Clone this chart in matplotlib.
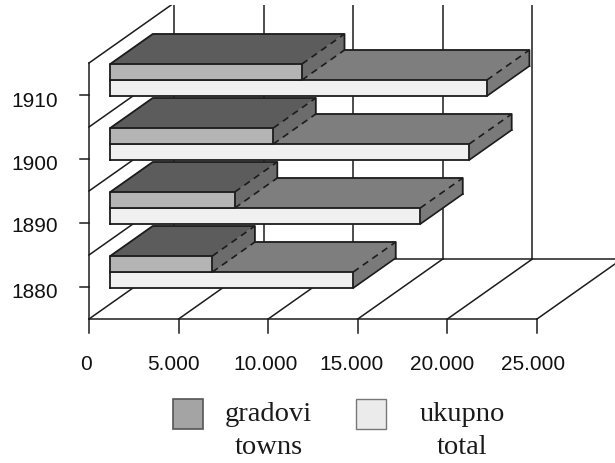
import matplotlib
matplotlib.use("Agg")
import matplotlib.pyplot as plt
from matplotlib.patches import Polygon

years = ["1880", "1890", "1900", "1910"]
towns = [5700, 6950, 9100, 10700]
total = [13560, 17300, 20030, 21020]
x_ticks = [0, 5000, 10000, 15000, 20000, 25000]
x_labels = ["0", "5.000", "10.000", "15.000", "20.000", "25.000"]

W, H = 615, 464
PX_X = 89.6 / 5000          # pixels per unit of value
PX_Y = 64.0                 # pixels per category band
X0_PX, Y0_PX, TOP_PX = 89, 320, 6
DX = 85 / PX_X              # full depth of the floor, value units
DY = 60 / PX_Y              # full depth of the floor, category units
F_FRONT, F_BACK = 0.25, 0.75
BAR_LOW, BAR_MID, BAR_HIGH = 0.25, 0.5, 0.75
DASH = (0, (4, 3))

C_EDGE = "#1c1c1c"
C_TOWN_FRONT, C_TOWN_TOP, C_TOWN_SIDE = "#b4b4b4", "#5c5c5c", "#6c6c6c"
C_TOTAL_FRONT, C_TOTAL_TOP, C_TOTAL_SIDE = "#f0f0f0", "#7e7e7e", "#7a7a7a"

fig = plt.figure(figsize=(W / 100, H / 100), dpi=100)
ax = fig.add_axes([0, 0, 1, (H - TOP_PX) / H])
ax.set_xlim(-X0_PX / PX_X, (W - X0_PX) / PX_X)
ax.set_ylim((Y0_PX - H) / PX_Y, (Y0_PX - TOP_PX) / PX_Y)
ax.axis("off")


def proj(v, c, f):
    """Oblique projection: value v, category height c, depth fraction f."""
    return v + DX * f, c + DY * f


def line(points, lw=1.1, ls="-", z=1):
    ax.plot([p[0] for p in points], [p[1] for p in points], color=C_EDGE,
            lw=lw, linestyle=ls, solid_capstyle="projecting", zorder=z)


def face(points, color, z):
    ax.add_patch(Polygon(points, closed=True, facecolor=color, edgecolor=color,
                         lw=0.3, zorder=z))


def box(v, c0, c1, front, top, side, z, soft_base):
    a, b = F_FRONT, F_BACK
    face([proj(0, c0, a), proj(v, c0, a), proj(v, c1, a), proj(0, c1, a)], front, z)
    face([proj(0, c1, a), proj(v, c1, a), proj(v, c1, b), proj(0, c1, b)], top, z)
    face([proj(v, c0, a), proj(v, c1, a), proj(v, c1, b), proj(v, c0, b)], side, z)
    e = z + 0.1
    line([proj(0, c0, a), proj(v, c0, a), proj(v, c1, a), proj(0, c1, a), proj(0, c0, a)], lw=1.3, z=e)
    line([proj(0, c1, a), proj(0, c1, b), proj(v, c1, b), proj(v, c0, b)], lw=1.3, z=e)
    line([proj(v, c1, a), proj(v, c1, b)], lw=1.2, ls=DASH, z=e)
    line([proj(v, c0, a), proj(v, c0, b)], lw=1.2, ls=DASH if soft_base else "-", z=e)


n = len(years)
v_max = x_ticks[-1]
wall_h = float(n)

# back wall, floor and left wall
for t in x_ticks:
    line([proj(t, 0, 1), proj(t, wall_h, 1)])
    line([proj(t, 0, 0), proj(t, 0, 1)])
    line([(t, 0), (t, -14 / PX_Y)])
line([proj(0, 0, 1), proj(v_max, 0, 1)])
line([(0, 0), (v_max, 0)])
line([(0, 0), (0, wall_h)])
for c in range(1, n + 1):
    line([proj(0, c, 0), proj(0, c, 1)])
for c in range(n):
    line([(0, c + 0.5), (-9 / PX_X, c + 0.5)])

# bars, from the back category to the front one
for i in range(n - 1, -1, -1):
    z = 2 + (n - i) * 2
    box(total[i], i + BAR_LOW, i + BAR_MID, C_TOTAL_FRONT, C_TOTAL_TOP, C_TOTAL_SIDE, z, False)
    box(towns[i], i + BAR_MID, i + BAR_HIGH, C_TOWN_FRONT, C_TOWN_TOP, C_TOWN_SIDE, z + 1, True)

# tick labels
tick_font = dict(family="Liberation Sans", fontsize=15, color="#111111")
x_shift = [-3, -5, -3, -6, -5, -4]
y_shift = [5, 3, 5, 5]
for t, lab, s in zip(x_ticks, x_labels, x_shift):
    ax.text(t + s / PX_X, -44 / PX_Y, lab, ha="center", va="center", clip_on=False, **tick_font)
for i, (y, s) in enumerate(zip(years, y_shift)):
    ax.text(-31 / PX_X, i + 0.5 - s / PX_Y, y, ha="right", va="center", clip_on=False, **tick_font)

# legend
fig.patches.extend([
    plt.Rectangle((173 / W, 1 - 430 / H), 30 / W, 30 / H, transform=fig.transFigure,
                  facecolor="#a4a4a4", edgecolor="#555555", lw=1.2),
    plt.Rectangle((356 / W, 1 - 430 / H), 30 / W, 30 / H, transform=fig.transFigure,
                  facecolor="#ebebeb", edgecolor="#777777", lw=1.0),
])
leg_font = dict(family="Liberation Serif", fontsize=20.5, color="#1a1a1a",
                ha="center", va="center", transform=fig.transFigure)
fig.text(268 / W, 1 - 415 / H, "gradovi", **leg_font)
fig.text(269 / W, 1 - 448 / H, "towns", **leg_font)
fig.text(462 / W, 1 - 415 / H, "ukupno", **leg_font)
fig.text(462 / W, 1 - 448 / H, "total", **leg_font)

fig.savefig("out.png", dpi=100)
